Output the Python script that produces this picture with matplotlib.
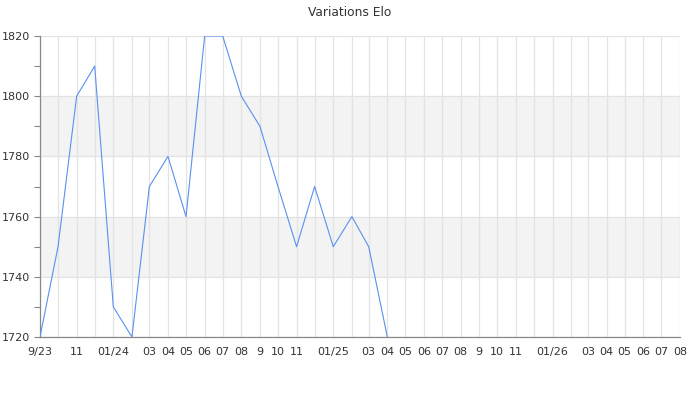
import datetime as dt
import matplotlib
matplotlib.use('Agg')
import matplotlib.pyplot as plt
import matplotlib.dates as mdates
from matplotlib.ticker import MultipleLocator, FixedLocator

# monthly elo values, starting Sep 2023
start_year, start_month = 2023, 9
elo = [1720, 1750, 1800, 1810, 1730, 1720, 1770, 1780, 1760, 1820,
       1820, 1800, 1790, 1770, 1750, 1770, 1750, 1760, 1750, 1720]

# x axis runs Sep 2023 .. Aug 2026, label shown for these months
n_months = 36
tick_text = ['9/23', '', '11', '', '01/24', '', '03', '04', '05', '06', '07', '08',
             '9', '10', '11', '', '01/25', '', '03', '04', '05', '06', '07', '08',
             '9', '10', '11', '', '01/26', '', '03', '04', '05', '06', '07', '08']

def month(i):
    m = start_month - 1 + i
    return dt.date(start_year + m // 12, m % 12 + 1, 1)

months = [month(i) for i in range(n_months)]
dates = months[:len(elo)]

fig = plt.figure(figsize=(7, 4), dpi=100)
ax = fig.add_axes([40/700, 1 - 337/400, 640/700, 301/400])

grid_c = '#e3e3e3'
for lo in (1740, 1780):
    ax.axhspan(lo, lo + 20, color='#f3f3f3', zorder=0, lw=0)

ax.plot(dates, elo, color='#5b8ff0', lw=0.8, zorder=3, clip_on=True)

ax.set_xlim(months[0], months[-1])
ax.set_ylim(1720, 1820)

ax.xaxis.set_major_locator(FixedLocator(mdates.date2num(months)))
ax.set_xticklabels(tick_text)
ax.yaxis.set_major_locator(MultipleLocator(20))
ax.yaxis.set_minor_locator(MultipleLocator(10))

ax.grid(True, which='major', color=grid_c, lw=0.9, zorder=1)
ax.set_axisbelow(True)

for s in ('top', 'right'):
    ax.spines[s].set_visible(False)
for s in ('left', 'bottom'):
    ax.spines[s].set_color('#888888')
    ax.spines[s].set_linewidth(0.9)

ax.tick_params(axis='x', length=0, pad=7, labelsize=8, labelcolor='#333333')
ax.tick_params(axis='y', which='major', length=4, width=0.8, color='#888888',
               pad=3, labelsize=8, labelcolor='#333333')
ax.tick_params(axis='y', which='minor', length=4, width=0.8, color='#888888')

fig.text(0.5, 1 - 13/400, 'Variations Elo', ha='center', va='center',
         fontsize=8.8, color='#333333')

fig.savefig('out.png', dpi=100)
